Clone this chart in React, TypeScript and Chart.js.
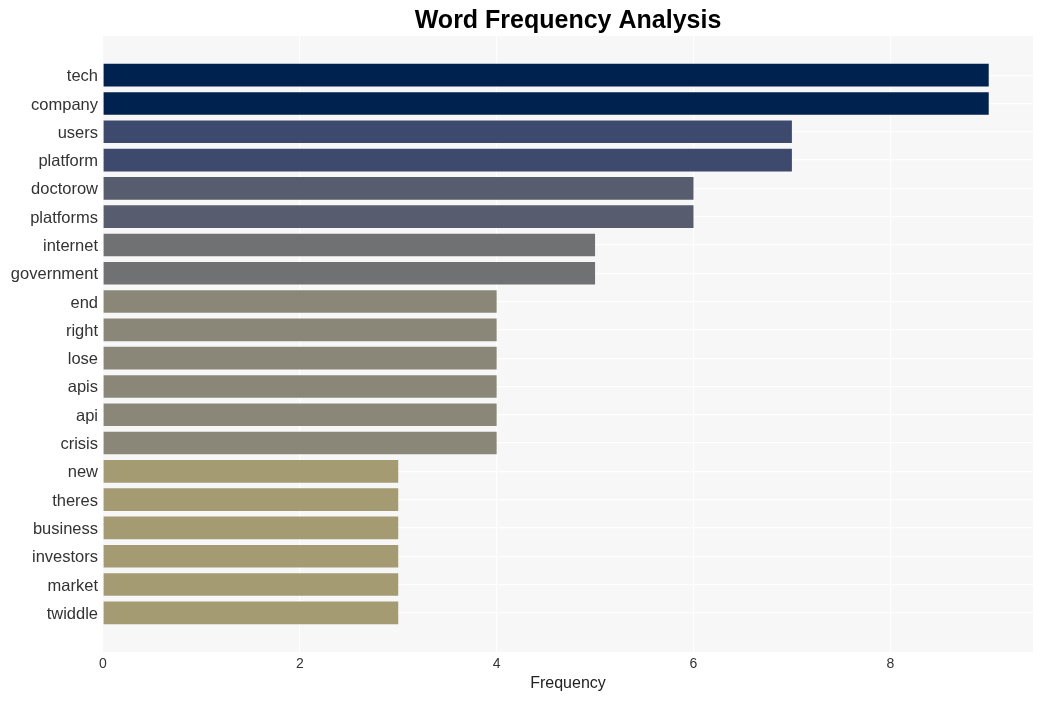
import React, { useEffect, useRef } from "react";
import { Chart, registerables } from "chart.js";

Chart.register(...registerables);

const words = [
  "tech", "company", "users", "platform", "doctorow", "platforms", "internet", "government",
  "end", "right", "lose", "apis", "api", "crisis", "new", "theres", "business", "investors", "market", "twiddle",
];
const frequencies = [9, 9, 7, 7, 6, 6, 5, 5, 4, 4, 4, 4, 4, 4, 3, 3, 3, 3, 3, 3];
const colorByValue: Record<number, string> = {
  9: "#00224e",
  7: "#3d4a6e",
  6: "#575c6e",
  5: "#707173",
  4: "#8b8778",
  3: "#a59b73",
};
const xTicks = [0, 2, 4, 6, 8];

const panelBg = {
  id: "panelBg",
  beforeDraw(chart: any) {
    const { ctx, chartArea } = chart;
    ctx.save();
    ctx.fillStyle = "#f7f7f7";
    ctx.fillRect(chartArea.left, chartArea.top, chartArea.right - chartArea.left, chartArea.bottom - chartArea.top);
    ctx.restore();
  },
};

export default function App() {
  const ref = useRef<HTMLCanvasElement>(null);
  useEffect(() => {
    document.body.style.margin = "0";
    const pad = 1.385;
    const chart = new Chart(ref.current!, {
      type: "bar",
      data: {
        datasets: [
          {
            data: frequencies.map((v, i) => ({ x: v, y: i })),
            backgroundColor: frequencies.map((v) => colorByValue[v]),
            barPercentage: 0.8,
            categoryPercentage: 1,
          },
        ],
      },
      options: {
        indexAxis: "y",
        animation: false,
        responsive: false,
        layout: { padding: { left: 0, right: 9, top: 0, bottom: 0 } },
        plugins: {
          legend: { display: false },
          tooltip: { enabled: false },
          title: {
            display: true,
            text: "Word Frequency Analysis",
            fullSize: false,
            color: "#000",
            font: { family: "Liberation Sans, Arial, sans-serif", size: 25, weight: "bold" },
            padding: { top: 6, bottom: 0 },
          },
        },
        scales: {
          x: {
            type: "linear",
            min: 0,
            max: 9.45,
            offset: false,
            afterBuildTicks: (scale: any) => {
              scale.ticks = xTicks.map((v) => ({ value: v }));
            },
            ticks: {
              color: "#333",
              font: { family: "Liberation Sans, Arial, sans-serif", size: 14 },
              padding: 4,
              maxRotation: 0,
            },
            grid: { color: "#ffffff", lineWidth: 1.2, drawTicks: false, offset: false },
            border: { display: false },
            title: {
              display: true,
              text: "Frequency",
              color: "#222",
              font: { family: "Liberation Sans, Arial, sans-serif", size: 16 },
              padding: { top: 0, bottom: 8 },
            },
            afterFit: (scale: any) => {
              scale.height = 49;
            },
          },
          y: {
            type: "linear",
            reverse: true,
            offset: false,
            min: -pad,
            max: words.length - 1 + pad,
            afterBuildTicks: (scale: any) => {
              scale.ticks = words.map((_, i) => ({ value: i }));
            },
            ticks: {
              autoSkip: false,
              color: "#333",
              font: { family: "Liberation Sans, Arial, sans-serif", size: 16.5 },
              padding: 5,
              labelOffset: 1.5,
              callback: (v: any) => words[v] ?? "",
            },
            grid: { color: "#ffffff", lineWidth: 1.2, drawTicks: false, offset: false },
            border: { display: false },
            afterFit: (scale: any) => {
              scale.width = 103;
            },
          },
        },
      },
      plugins: [panelBg],
    });
    return () => chart.destroy();
  }, []);
  return (
    <div style={{ width: 1042, height: 701 }}>
      <canvas ref={ref} width={1042} height={701} />
    </div>
  );
}
